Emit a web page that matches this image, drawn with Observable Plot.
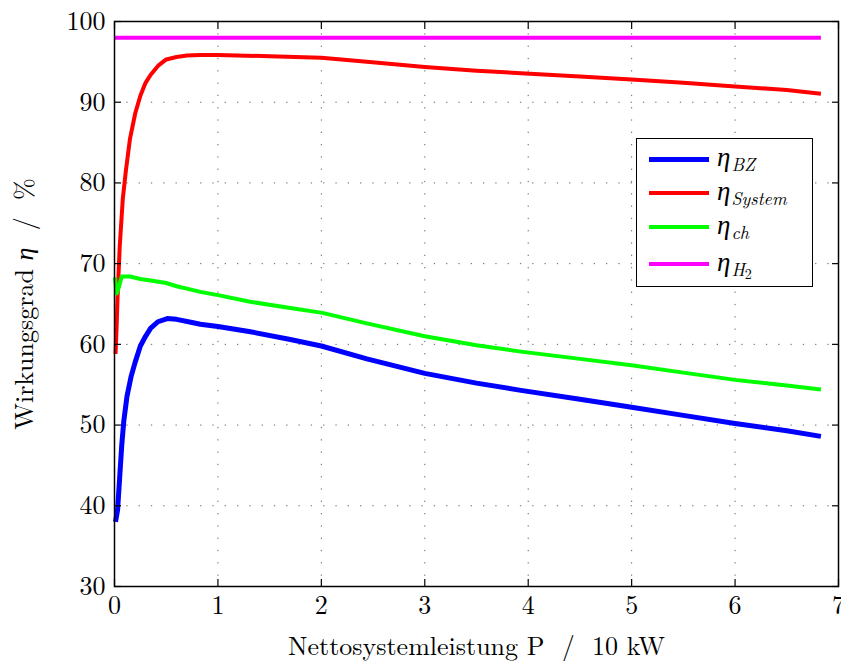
<!DOCTYPE html>
<html>
<head>
<meta charset="utf-8">
<script src="https://cdn.jsdelivr.net/npm/d3@7"></script>
<script src="https://cdn.jsdelivr.net/npm/@observablehq/plot@0.6"></script>
<style>
  html, body { margin: 0; padding: 0; background: white; }
  #wrap { position: relative; width: 841px; height: 661px; overflow: hidden; }
  #wrap svg, #wrap svg text { font-family: "Latin Modern Roman", "Liberation Serif", serif; }
  #wrap svg tspan.eta { font-family: "Liberation Serif", serif; font-style: italic; }
  #legend { position: absolute; left: 636px; top: 138px; width: 175px; height: 147px;
            border: 1.5px solid black; background: white;
            font-family: "Latin Modern Roman", "Liberation Serif", serif; }
  .row { position: absolute; left: 0; height: 0; }
  .swatch { position: absolute; left: 12px; width: 60px; }
  .lab { position: absolute; left: 80px; top: -18px; white-space: nowrap; font-size: 26px; font-style: italic; line-height: 30px; }
  .lab .g { font-family: "Liberation Serif", serif; font-size: 27px; }
  .lab sub { font-size: 18px; vertical-align: -5px; line-height: 0; margin-left: 1px; }
  .lab sub .up { font-style: normal; font-size: 14px; vertical-align: -3px; }
</style>
</head>
<body>
<div id="wrap"></div>
<script>
// ---- data ----
const seriesNames = ["BZ", "System", "ch", "H2"];
const seriesColors = ["#0000ff", "#ff0000", "#00ff00", "#ff00ff"];
const seriesWidths = [5, 4, 4, 4];

const xBZ   = [0.01, 0.03, 0.05, 0.07, 0.09, 0.12, 0.16, 0.20, 0.25, 0.30, 0.35, 0.42, 0.51, 0.60, 0.75, 0.83, 1.0, 1.3, 1.7, 2.0, 2.44, 3.0, 3.5, 3.93, 4.5, 5.0, 5.5, 6.0, 6.5, 6.83];
const etaBZ = [38.0, 39.5, 43.5, 47.5, 50.5, 53.5, 56.0, 57.8, 59.8, 61.0, 62.0, 62.8, 63.2, 63.1, 62.7, 62.5, 62.2, 61.6, 60.6, 59.8, 58.2, 56.4, 55.2, 54.3, 53.2, 52.2, 51.2, 50.2, 49.3, 48.6];

const xSystem   = [0.01, 0.02, 0.03, 0.05, 0.08, 0.11, 0.15, 0.20, 0.25, 0.30, 0.35, 0.42, 0.50, 0.60, 0.70, 0.83, 1.0, 1.5, 2.0, 2.44, 3.0, 3.5, 3.93, 4.5, 5.0, 5.5, 6.0, 6.5, 6.83];
const etaSystem = [58.8, 62.0, 66.0, 72.0, 78.0, 81.5, 85.5, 88.6, 90.8, 92.4, 93.4, 94.5, 95.3, 95.6, 95.8, 95.85, 95.85, 95.7, 95.5, 95.0, 94.35, 93.9, 93.6, 93.2, 92.8, 92.4, 91.95, 91.5, 91.05];

const xCh   = [0.005, 0.02, 0.04, 0.07, 0.15, 0.25, 0.35, 0.50, 0.60, 0.70, 0.83, 1.0, 1.3, 1.7, 2.01, 2.44, 3.0, 3.5, 3.93, 4.5, 5.0, 5.5, 6.0, 6.5, 6.83];
const etaCh = [68.3, 66.3, 67.0, 68.4, 68.4, 68.1, 67.9, 67.6, 67.2, 66.9, 66.5, 66.1, 65.3, 64.5, 63.9, 62.6, 61.0, 59.9, 59.1, 58.2, 57.4, 56.5, 55.6, 54.9, 54.4];

const xH2   = [0, 6.83];
const etaH2 = [98.0, 98.0];

const xTicks = [0, 1, 2, 3, 4, 5, 6, 7];
const yTicks = [30, 40, 50, 60, 70, 80, 90, 100];

// ---- build table ----
const xs = [xBZ, xSystem, xCh, xH2];
const ys = [etaBZ, etaSystem, etaCh, etaH2];
const table = seriesNames.map((name, s) => xs[s].map((x, i) => ({series: name, x, eta: ys[s][i]})));

const lineMarks = seriesNames.map((name, s) =>
  Plot.line(table[s], {x: "x", y: "eta", stroke: seriesColors[s], strokeWidth: seriesWidths[s],
                       strokeLinejoin: "round", strokeLinecap: "butt"}));

const font = "Latin Modern Roman";

const chart = Plot.plot({
  width: 841,
  height: 661,
  marginLeft: 114,
  marginRight: 3,
  marginTop: 21,
  marginBottom: 75,
  style: {fontFamily: font, fontSize: "26px", background: "white", color: "black", overflow: "visible"},
  x: {domain: [0, 7]},
  y: {domain: [30, 100]},
  marks: [
    Plot.gridX(xTicks, {stroke: "#000", strokeOpacity: 0.6, strokeWidth: 1, strokeDasharray: "1.3,11"}),
    Plot.gridY(yTicks, {stroke: "#000", strokeOpacity: 0.6, strokeWidth: 1, strokeDasharray: "1.3,11"}),
    ...lineMarks,
    Plot.frame({stroke: "black", strokeWidth: 1.5}),
    Plot.axisX(xTicks, {anchor: "bottom", tickSize: -7, tickPadding: 16, strokeWidth: 1.2, fontFamily: font,
                        label: "Nettosystemleistung P  /  10 kW", labelArrow: "none", labelAnchor: "center", labelOffset: 68, fontSize: 26}),
    Plot.axisX(xTicks, {anchor: "top", tickSize: -7, tickFormat: () => "", label: null, strokeWidth: 1.2}),
    Plot.axisY(yTicks, {anchor: "left", tickSize: -7, tickPadding: 16, strokeWidth: 1.2, fontFamily: font,
                        label: "Wirkungsgrad η  /  %", labelArrow: "none", labelAnchor: "center", labelOffset: 100, fontSize: 26}),
    Plot.axisY(yTicks, {anchor: "right", tickSize: -7, tickFormat: () => "", label: null, strokeWidth: 1.2})
  ]
});

// italic eta in the y label
d3.select(chart).selectAll("text").each(function() {
  const t = this.textContent;
  if (t.includes("η") && this.children.length === 0) {
    const parts = t.split("η");
    const sel = d3.select(this);
    sel.text(null);
    sel.append("tspan").text(parts[0]);
    sel.append("tspan").attr("class", "eta").text("η");
    sel.append("tspan").text(parts[1]);
  }
});

const wrap = document.getElementById("wrap");
wrap.appendChild(chart);

// ---- legend ----
const legend = document.createElement("div");
legend.id = "legend";
const rowTops = [20, 54, 88, 125];
const subs = ["BZ", "System", "ch", "H"];
seriesNames.forEach((name, s) => {
  const row = document.createElement("div");
  row.className = "row";
  row.style.top = rowTops[s] + "px";
  const sw = document.createElement("div");
  sw.className = "swatch";
  sw.style.borderTop = seriesWidths[s] + "px solid " + seriesColors[s];
  sw.style.top = (-seriesWidths[s] / 2) + "px";
  row.appendChild(sw);
  const lab = document.createElement("div");
  lab.className = "lab";
  lab.innerHTML = "<span class='g'>η</span><sub>" + subs[s] + (name === "H2" ? "<span class='up'>2</span>" : "") + "</sub>";
  row.appendChild(lab);
  legend.appendChild(row);
});
wrap.appendChild(legend);
</script>
</body>
</html>
